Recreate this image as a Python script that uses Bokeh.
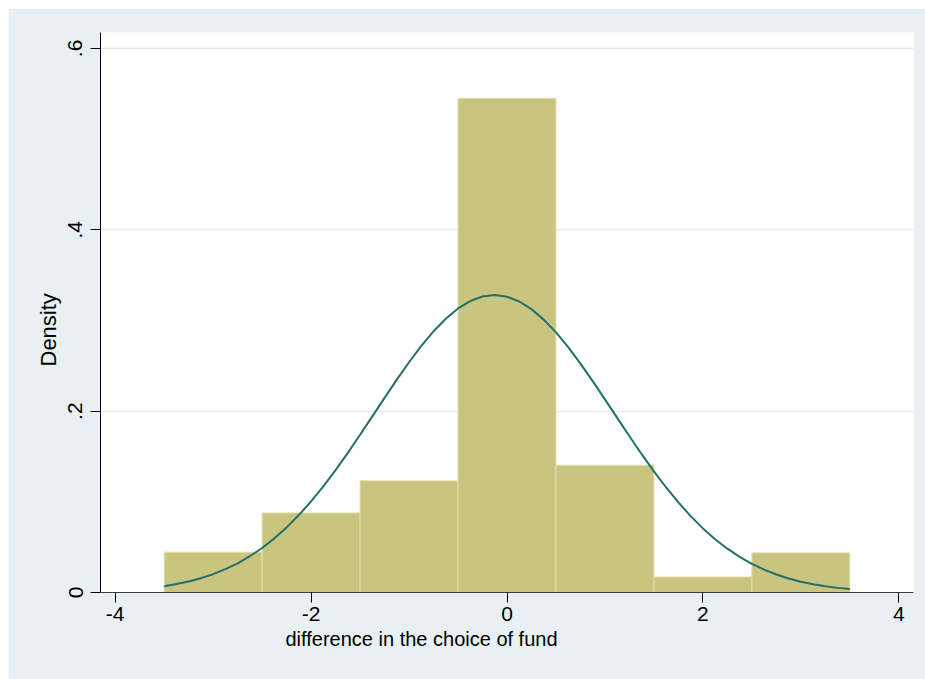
from bokeh.plotting import figure
from bokeh.models import Range1d, FixedTicker, Spacer, Title
from bokeh.layouts import column, row
from bokeh.embed import file_html
from bokeh.resources import INLINE

# Histogram bins (left/right edges) and densities
bin_left = [-3.5, -2.5, -1.5, -0.5, 0.5, 1.5, 2.5]
bin_right = [-2.5, -1.5, -0.5, 0.5, 1.5, 2.5, 3.5]
density = [0.0445, 0.0878, 0.1231, 0.545, 0.1404, 0.0172, 0.0437]

# Normal density overlay
curve_x = [-3.5, -3.375, -3.25, -3.125, -3.0, -2.875, -2.75, -2.625, -2.5, -2.375,
           -2.25, -2.125, -2.0, -1.875, -1.75, -1.625, -1.5, -1.375, -1.25, -1.125,
           -1.0, -0.875, -0.75, -0.625, -0.5, -0.375, -0.25, -0.125, 0.0, 0.125,
           0.25, 0.375, 0.5, 0.625, 0.75, 0.875, 1.0, 1.125, 1.25, 1.375, 1.5,
           1.625, 1.75, 1.875, 2.0, 2.125, 2.25, 2.375, 2.5, 2.625, 2.75, 2.875,
           3.0, 3.125, 3.25, 3.375, 3.5]
curve_y = [0.0070, 0.0093, 0.0122, 0.0158, 0.0202, 0.0257, 0.0322, 0.0400, 0.0491,
           0.0597, 0.0718, 0.0854, 0.1005, 0.1171, 0.1350, 0.1540, 0.1739, 0.1942,
           0.2146, 0.2347, 0.2539, 0.2719, 0.2880, 0.3019, 0.3132, 0.3214, 0.3264,
           0.3280, 0.3261, 0.3209, 0.3124, 0.3009, 0.2868, 0.2705, 0.2524, 0.2331,
           0.2130, 0.1926, 0.1723, 0.1525, 0.1336, 0.1158, 0.0993, 0.0842, 0.0707,
           0.0588, 0.0483, 0.0393, 0.0316, 0.0252, 0.0198, 0.0155, 0.0119, 0.0091,
           0.0069, 0.0051, 0.0038]

x_ticks = [-4, -2, 0, 2, 4]
x_tick_labels = ["-4", "-2", "0", "2", "4"]
y_ticks = [0, 0.2, 0.4, 0.6]
y_tick_labels = ["0", ".2", ".4", ".6"]
x_title = "difference in the choice of fund"
y_title = "Density"

FONT = "Liberation Sans"
BG = "#e9f0f3"

p = figure(width=917, height=671, output_backend="svg", toolbar_location=None,
           x_range=Range1d(-4.15, 4.15), y_range=Range1d(0, 0.6175),
           min_border_left=92, min_border_right=12, min_border_top=24,
           min_border_bottom=87)
p.background_fill_color = "white"
p.border_fill_color = BG
p.outline_line_color = None

p.quad(left=bin_left, right=bin_right, bottom=0, top=density,
       fill_color="#c9c47f", line_color="#e3dfb0", line_width=1)
p.line(curve_x, curve_y, line_color="#23706a", line_width=2)

p.xgrid.visible = False
p.ygrid.grid_line_color = "#e4ecf0"
p.ygrid.grid_line_width = 1.5
p.ygrid.ticker = FixedTicker(ticks=y_ticks[1:])

p.xaxis.ticker = FixedTicker(ticks=x_ticks)
p.xaxis.major_label_overrides = {t: l for t, l in zip(x_ticks, x_tick_labels)}
p.yaxis.ticker = FixedTicker(ticks=y_ticks)
p.yaxis.major_label_overrides = {t: l for t, l in zip(y_ticks, y_tick_labels)}
p.yaxis.major_label_orientation = "vertical"

for ax in (p.xaxis, p.yaxis):
    ax.major_tick_in = 0
    ax.major_tick_out = 10
    ax.minor_tick_line_color = None
    ax.major_tick_line_color = "black"
    ax.major_label_text_font = FONT
    ax.major_label_text_font_size = "21px"
    ax.major_label_text_color = "black"

p.xaxis.axis_line_color = "#3c3c3c"
p.yaxis.axis_line_color = "black"
p.xaxis.major_label_standoff = 4
p.yaxis.major_label_standoff = 8

xt = Title(text=x_title, align="left", offset=185, standoff=5,
           text_font=FONT, text_font_size="20px", text_font_style="normal",
           text_color="black")
yt = Title(text=y_title, align="left", offset=226, standoff=10,
           text_font=FONT, text_font_size="22px", text_font_style="normal",
           text_color="black")
p.add_layout(xt, "below")
p.add_layout(yt, "left")

layout = column(Spacer(height=8, width=925), row(Spacer(width=8, height=671), p))
open("out.html", "w").write(file_html(layout, INLINE))
